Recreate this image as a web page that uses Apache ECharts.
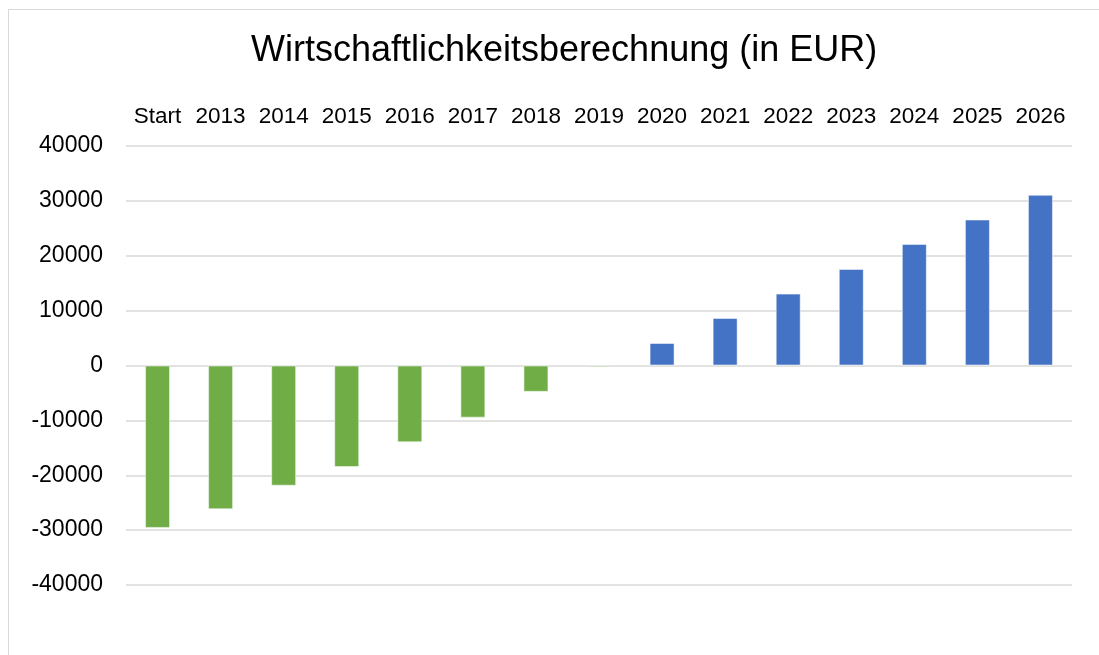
<!DOCTYPE html>
<html>
<head>
<meta charset="utf-8">
<script src="https://cdn.jsdelivr.net/npm/echarts@6/dist/echarts.min.js"></script>
<style>
    html, body { margin: 0; padding: 0; background: #fff; overflow: hidden; }
    #frame { position: absolute; left: 8px; top: 9px; width: 1200px; height: 700px; border: 1px solid #d9d9d9; }
    #mainChart { position: absolute; left: 0; top: 0; width: 1099px; height: 655px; }
</style>
</head>
<body>
<div id="frame"></div>
<div id="mainChart"></div>
<script>
(function () {
    "use strict";

    // 类别（年份）
    var categories = ["Start", "2013", "2014", "2015", "2016", "2017", "2018", "2019",
        "2020", "2021", "2022", "2023", "2024", "2025", "2026"];
    // 累计结果（EUR）
    var values = [-29600, -26200, -21900, -18500, -14000, -9500, -4800, -300,
        4100, 8650, 13100, 17600, 22150, 26600, 31100];
    var yTicks = [-40000, 40000, 10000]; // min, max, interval

    var GREEN = "#70ad47";
    var BLUE = "#4472c4";
    var FONT = "Liberation Sans, Arial, sans-serif";

    var chart = echarts.init(document.getElementById("mainChart"), null, { renderer: "canvas" });

    chart.setOption({
        backgroundColor: "transparent",
        animation: false,
        title: {
            text: "Wirtschaftlichkeitsberechnung (in EUR)",
            left: 246, top: 28,
            textStyle: { fontFamily: FONT, fontSize: 36, fontWeight: "normal", color: "#000" },
        },
        grid: { left: 126, right: 27, top: 146, bottom: 70 },
        xAxis: {
            type: "category", data: categories, position: "top",
            axisLine: { show: false }, axisTick: { show: false },
            axisLabel: { color: "#000", fontFamily: FONT, fontSize: 22.5, margin: 18, interval: 0 },
        },
        yAxis: {
            type: "value", min: yTicks[0], max: yTicks[1], interval: yTicks[2],
            axisLine: { show: false }, axisTick: { show: false },
            axisLabel: { color: "#000", fontFamily: FONT, fontSize: 23, margin: 23, formatter: function (v) { return String(v); } },
            splitLine: { lineStyle: { color: "#d9d9d9", width: 1.5 } },
        },
        series: [{
            type: "bar", data: values, barWidth: 25,
            itemStyle: {
                color: function (p) { return p.value < 0 ? GREEN : BLUE; },
                borderColor: "rgba(255,255,255,0.5)", borderWidth: 1,
            },
        }],
    });
})();
</script>
</body>
</html>
